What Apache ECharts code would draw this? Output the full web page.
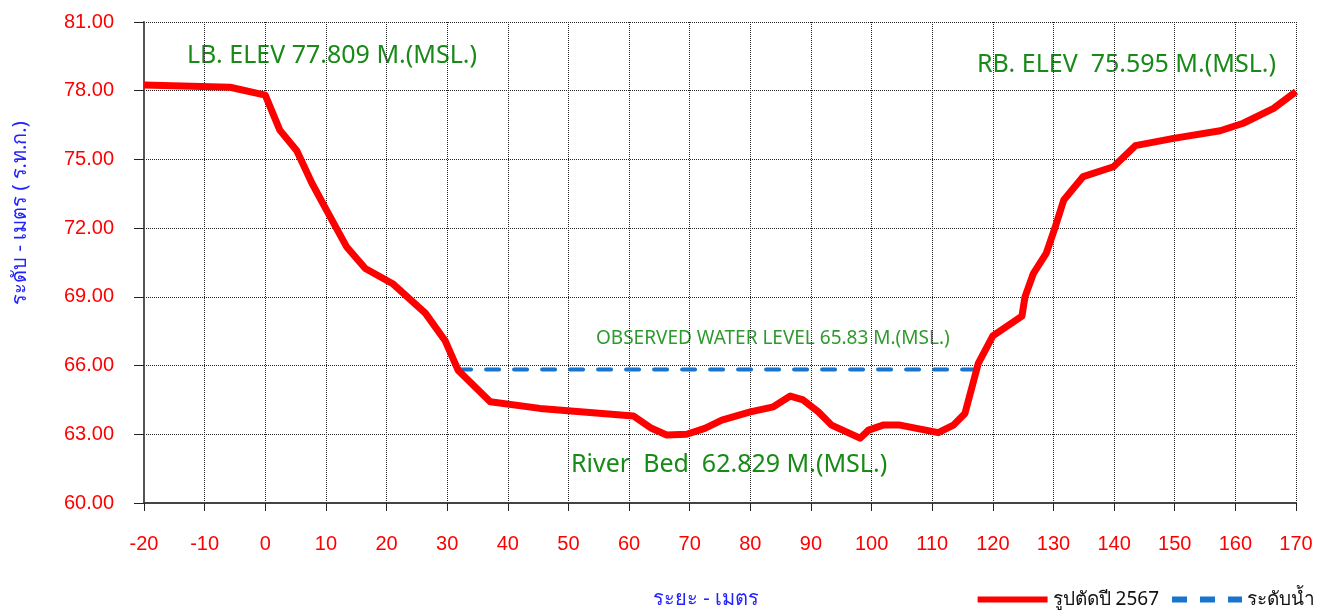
<!DOCTYPE html>
<html>
<head>
<meta charset="utf-8">
<title>รูปตัดลำน้ำ</title>
<script src="https://cdn.jsdelivr.net/npm/echarts@6/dist/echarts.min.js"></script>
<style>
  html, body { margin: 0; padding: 0; background: #fff; }
  #chart { width: 1329px; height: 615px; }
</style>
</head>
<body>
<div id="chart"></div>
<script>
// ระยะ (ม.) และ ระดับ (ม.รทก.) ของรูปตัด ปี 2567
var dist = [-20, -5.8, 0, 2.4, 5.2, 7.7, 10.1, 13.4, 16.5, 21.1, 26.4, 29.7, 31.8,
  37.1, 45.3, 60.7, 63.7, 66.2, 69.5, 72.5, 75.3, 80, 83.8, 86.6, 88.7, 91.2, 93.4,
  98.1, 99.5, 101.9, 104.7, 111, 113.5, 115.4, 117.6, 120, 124.8, 125.3, 126.7,
  128.8, 130.3, 131.7, 134.9, 139.9, 143.5, 149.8, 157.5, 161.3, 166.3, 170];
var elev = [78.25, 78.15, 77.81, 76.28, 75.38, 73.96, 72.79, 71.19, 70.24, 69.56, 68.29, 67.07, 65.8,
  64.42, 64.13, 63.8, 63.26, 62.97, 63.0, 63.26, 63.62, 63.98, 64.2, 64.67, 64.5, 63.98, 63.4,
  62.83, 63.18, 63.4, 63.4, 63.07, 63.4, 63.91, 66.1, 67.3, 68.16, 69.0, 70.03,
  70.9, 72.06, 73.23, 74.25, 74.68, 75.6, 75.92, 76.25, 76.58, 77.23, 77.96];

// ระดับน้ำที่สังเกต
var wlDist = [31.8, 117.6];
var wlElev = [65.83, 65.83];

var seriesNames = ['รูปตัดปี 2567', 'ระดับน้ำ'];
var notes = [
  { text: 'LB. ELEV 77.809 M.(MSL.)', x: 187, y: 56, size: 25, color: '#178a17' },
  { text: 'RB. ELEV  75.595 M.(MSL.)', x: 977, y: 65, size: 25, color: '#178a17' },
  { text: 'OBSERVED WATER LEVEL 65.83 M.(MSL.)', x: 596, y: 339, size: 19, color: '#2e9a2e' },
  { text: 'River  Bed  62.829 M.(MSL.)', x: 571, y: 465, size: 25, color: '#178a17' }
];

var zip = function (a, b) {
  var out = [];
  for (var i = 0; i < a.length; i++) out.push([a[i], b[i]]);
  return out;
};

var chart = echarts.init(document.getElementById('chart'));

var gfx = notes.map(function (n) {
  return {
    type: 'text', x: n.x, y: n.y,
    style: { text: n.text, fill: n.color, verticalAlign: 'middle', font: n.size + 'px "Noto Sans", "Open Sans", sans-serif' }
  };
});
// ชื่อแกน
gfx.push({
  type: 'text', x: 20, y: 213, rotation: Math.PI / 2,
  style: {
    text: 'ระดับ - เมตร ( ร.ท.ก.)', fill: '#2222ff', align: 'center', verticalAlign: 'middle',
    font: '20px "Noto Sans", sans-serif'
  }
});
gfx.push({
  type: 'text', x: 706, y: 599,
  style: {
    text: 'ระยะ - เมตร', fill: '#2222ff', align: 'center', verticalAlign: 'middle',
    font: '20px "Noto Sans", sans-serif'
  }
});

var option = {
  animation: false,
  grid: { left: 144, right: 33, top: 22, bottom: 112 },
  legend: {
    right: 9, bottom: 1, itemWidth: 70, itemHeight: 6, itemGap: 13,
    textStyle: { color: '#111', fontSize: 19, fontFamily: '"Noto Sans", sans-serif' },
    data: [
      { name: seriesNames[0], icon: 'path://M0,0H70V6H0Z' },
      { name: seriesNames[1], icon: 'path://M0,0H15V6H0Z M28,0H43V6H28Z M56,0H70V6H56Z' }
    ]
  },
  xAxis: {
    type: 'value', min: -20, max: 170, interval: 10,
    axisLine: { show: true, onZero: false, lineStyle: { color: '#444', width: 2 } },
    axisTick: { show: true, length: 8, lineStyle: { color: '#222' } },
    axisLabel: { color: '#ff0000', fontSize: 20, margin: 31, fontFamily: 'Liberation Sans, Arial' },
    splitLine: { show: true, lineStyle: { color: '#222', type: 'dotted', width: 1 } }
  },
  yAxis: {
    type: 'value', min: 60, max: 81, interval: 3,
    axisLine: { show: true, onZero: false, lineStyle: { color: '#555', width: 2 } },
    axisTick: { show: true, length: 10, lineStyle: { color: '#222' } },
    axisLabel: {
      color: '#ff0000', fontSize: 20, margin: 30, fontFamily: 'Liberation Sans, Arial',
      formatter: function (v) { return v.toFixed(2); }
    },
    splitLine: { show: true, lineStyle: { color: '#222', type: 'dotted', width: 1 } }
  },
  graphic: gfx,
  series: [
    {
      name: seriesNames[0], type: 'line', data: zip(dist, elev),
      symbol: 'none', z: 3,
      lineStyle: { color: '#ff0000', width: 7, join: 'round' },
      itemStyle: { color: '#ff0000' }
    },
    {
      name: seriesNames[1], type: 'line', data: zip(wlDist, wlElev),
      symbol: 'none', z: 2,
      lineStyle: { color: '#1874cd', width: 4, type: [13, 15], cap: 'round' },
      itemStyle: { color: '#1874cd' }
    }
  ]
};
chart.setOption(option);
</script>
</body>
</html>
